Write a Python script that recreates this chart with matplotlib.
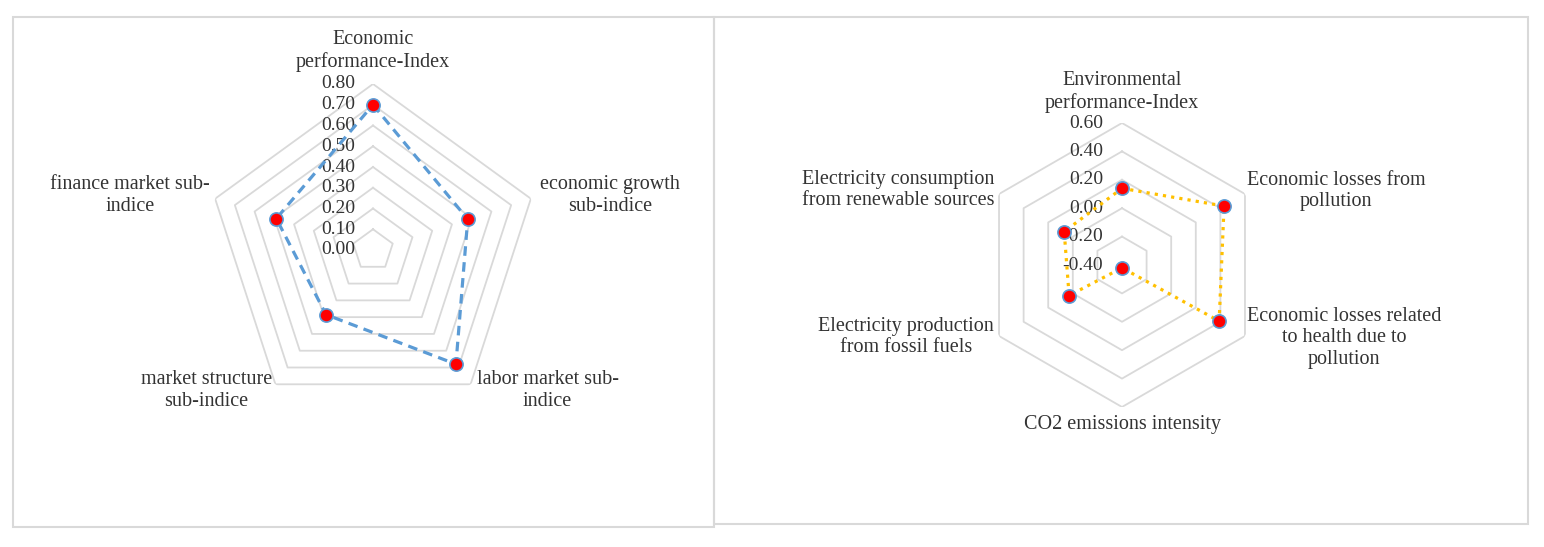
import numpy as np
import matplotlib
matplotlib.use("Agg")
from matplotlib import pyplot as plt
from matplotlib.patches import Rectangle

# left radar: economic performance
econ_labels = ["Economic\nperformance-Index", "economic growth\nsub-indice",
               "labor market sub-\nindice", "market structure\nsub-indice",
               "finance market sub-\nindice"]
econ_values = [0.70, 0.48, 0.68, 0.385, 0.49]
econ_ticks = [0.00, 0.10, 0.20, 0.30, 0.40, 0.50, 0.60, 0.70, 0.80]

# right radar: environmental performance
env_labels = ["Environmental\nperformance-Index", "Economic losses from\npollution",
              "Economic losses related\nto health due to\npollution",
              "CO2 emissions intensity", "Electricity production\nfrom fossil fuels",
              "Electricity consumption\nfrom renewable sources"]
env_values = [0.14, 0.43, 0.39, -0.38, 0.03, 0.07]
env_ticks = [-0.40, -0.20, 0.00, 0.20, 0.40, 0.60]

W, H = 1544, 547
GRID = "#d9d9d9"
TEXT = "#333333"
plt.rcParams["font.family"] = ["Liberation Serif", "DejaVu Serif"]


def radar_axes(fig, cx, cy, radius):
    # cx, cy in pixels from top-left
    ax = fig.add_axes([(cx - radius) / W, (H - cy - radius) / H,
                       2 * radius / W, 2 * radius / H], projection="polar")
    ax.set_theta_offset(np.pi / 2)
    ax.set_theta_direction(-1)
    ax.grid(False)
    ax.set_xticks([])
    ax.set_yticks([])
    ax.spines["polar"].set_visible(False)
    ax.patch.set_alpha(0)
    return ax


def draw_radar(ax, labels, values, ticks, line_kw, label_offsets, tick_dx):
    n = len(labels)
    theta = np.arange(n) * 2 * np.pi / n
    closed = np.append(theta, theta[0])
    ax.set_ylim(ticks[0], ticks[-1])
    for t in ticks[1:]:
        ax.plot(closed, [t] * (n + 1), color=GRID, lw=1.3, zorder=1)
    for t in ticks:
        ax.annotate(f"{t:.2f}", xy=(0, t), xytext=(tick_dx, 0),
                    textcoords="offset pixels", ha="right", va="center",
                    fontsize=14, color=TEXT, zorder=3)
    vals = np.append(values, values[0])
    ax.plot(closed, vals, zorder=4, **line_kw)
    ax.plot(theta, values, "o", ms=9.5, mfc="#ff0000", mec="#5b9bd5",
            mew=1.2, ls="none", zorder=5)
    for th, lab, off in zip(theta, labels, label_offsets):
        ax.annotate(lab, xy=(th, ticks[-1]), xytext=off,
                    textcoords="offset pixels", ha="center", va="center",
                    fontsize=14.5, color=TEXT, linespacing=1.2,
                    annotation_clip=False)


fig = plt.figure(figsize=(W / 100, H / 100), dpi=100)

for x0, y0, x1, y1 in [(13, 17, 714, 527), (714, 17, 1528, 524)]:
    fig.patches.append(Rectangle((x0 / W, 1 - y1 / H), (x1 - x0) / W, (y1 - y0) / H,
                                 transform=fig.transFigure, fill=False,
                                 ec=GRID, lw=1.5))

ax1 = radar_axes(fig, 373, 250, 166)
draw_radar(ax1, econ_labels, econ_values, econ_ticks,
           dict(color="#5b9bd5", lw=2.3, ls=(0, (3, 2))),
           [(0, 33), (79, 3), (77, -6), (-69, -6), (-85, 3)], -18)

ax2 = radar_axes(fig, 1122, 265, 142)
draw_radar(ax2, env_labels, env_values, env_ticks,
           dict(color="#ffc000", lw=2.3, ls=(0, (1, 1.6))),
           [(0, 31), (91, 3), (99, -2), (0, -18), (-93, -1), (-101, 4)], -19)

fig.savefig("out.png", dpi=100, facecolor="white")
